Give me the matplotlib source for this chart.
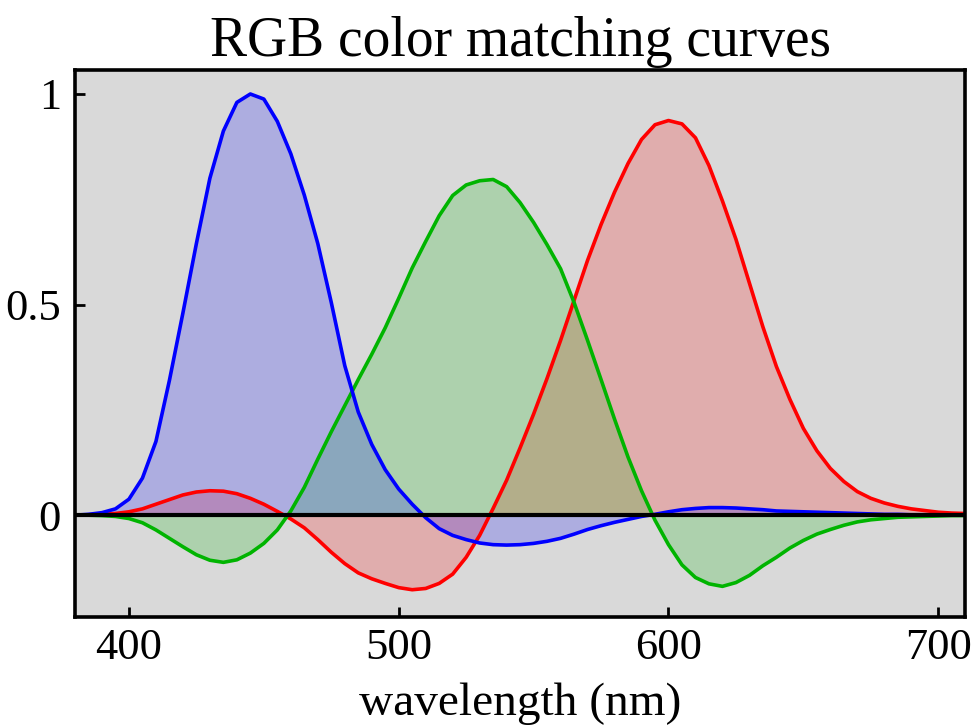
import numpy as np
import matplotlib
matplotlib.use("Agg")
import matplotlib.pyplot as plt

# wavelength grid (nm) and the three matching curves
wavelength = np.arange(380, 711, 5)

red_vals = [0.000, 0.001, 0.002, 0.004, 0.008, 0.015, 0.026, 0.037, 0.048, 0.055,
            0.058, 0.057, 0.051, 0.040, 0.026, 0.009, -0.009, -0.030, -0.058, -0.088,
            -0.115, -0.137, -0.151, -0.162, -0.172, -0.177, -0.174, -0.162, -0.140, -0.100,
            -0.048, 0.016, 0.083, 0.160, 0.240, 0.325, 0.415, 0.510, 0.605, 0.690,
            0.767, 0.835, 0.892, 0.927, 0.937, 0.929, 0.896, 0.830, 0.746, 0.655,
            0.551, 0.447, 0.353, 0.275, 0.206, 0.153, 0.111, 0.080, 0.056, 0.040,
            0.029, 0.021, 0.015, 0.011, 0.007, 0.005, 0.004]

green_vals = [0.000, 0.000, -0.001, -0.003, -0.008, -0.018, -0.035, -0.055, -0.075, -0.094,
              -0.107, -0.112, -0.106, -0.090, -0.067, -0.035, 0.010, 0.066, 0.133, 0.198,
              0.260, 0.322, 0.382, 0.445, 0.515, 0.587, 0.650, 0.711, 0.759, 0.784,
              0.794, 0.797, 0.780, 0.742, 0.695, 0.642, 0.585, 0.505, 0.415, 0.322,
              0.228, 0.138, 0.058, -0.012, -0.070, -0.118, -0.148, -0.163, -0.169, -0.160,
              -0.143, -0.120, -0.100, -0.078, -0.060, -0.045, -0.034, -0.024, -0.016, -0.011,
              -0.008, -0.005, -0.004, -0.003, -0.002, -0.001, -0.001]

blue_vals = [0.000, 0.002, 0.006, 0.015, 0.038, 0.088, 0.175, 0.320, 0.480, 0.645,
             0.800, 0.912, 0.980, 1.000, 0.988, 0.935, 0.858, 0.760, 0.645, 0.505,
             0.355, 0.245, 0.168, 0.108, 0.062, 0.026, -0.006, -0.032, -0.048, -0.058,
             -0.066, -0.070, -0.071, -0.070, -0.067, -0.062, -0.055, -0.045, -0.034, -0.025,
             -0.017, -0.010, -0.003, 0.002, 0.008, 0.013, 0.016, 0.018, 0.018, 0.017,
             0.015, 0.013, 0.010, 0.009, 0.008, 0.007, 0.006, 0.005, 0.004, 0.003,
             0.002, 0.002, 0.001, 0.001, 0.001, 0.000, 0.000]

x_ticks = [400, 500, 600, 700]
y_ticks = [0, 0.5, 1]
y_tick_labels = ["0", "0.5", "1"]

plt.rcParams['font.family'] = ['Liberation Serif', 'DejaVu Serif']

fig = plt.figure(figsize=(9.74, 7.26), dpi=100)
ax = fig.add_axes([0.077, 0.150, 0.914, 0.7536])
ax.set_facecolor('#d9d9d9')

curves = [(red_vals, '#ff0000'), (green_vals, '#00b400'), (blue_vals, '#0000ff')]
for vals, col in curves:
    ax.fill_between(wavelength, vals, 0, color=col, alpha=0.2, linewidth=0)
for vals, col in curves:
    ax.plot(wavelength, vals, color=col, linewidth=2.6, solid_joinstyle='round')

ax.axhline(0, color='black', linewidth=3, zorder=5)

ax.set_xlim(380, 710)
ax.set_ylim(-0.242, 1.057)
ax.set_xticks(x_ticks)
ax.set_yticks(y_ticks)
ax.set_yticklabels(y_tick_labels)
ax.tick_params(direction='in', length=7, width=2, labelsize=32, pad=10)
ax.tick_params(axis='x', pad=8)
for sp in ax.spines.values():
    sp.set_linewidth(2.6)

ax.set_title("RGB color matching curves", fontsize=40, pad=10)
ax.set_xlabel("wavelength (nm)", fontsize=34, labelpad=10)

fig.savefig("out.png", dpi=100)
